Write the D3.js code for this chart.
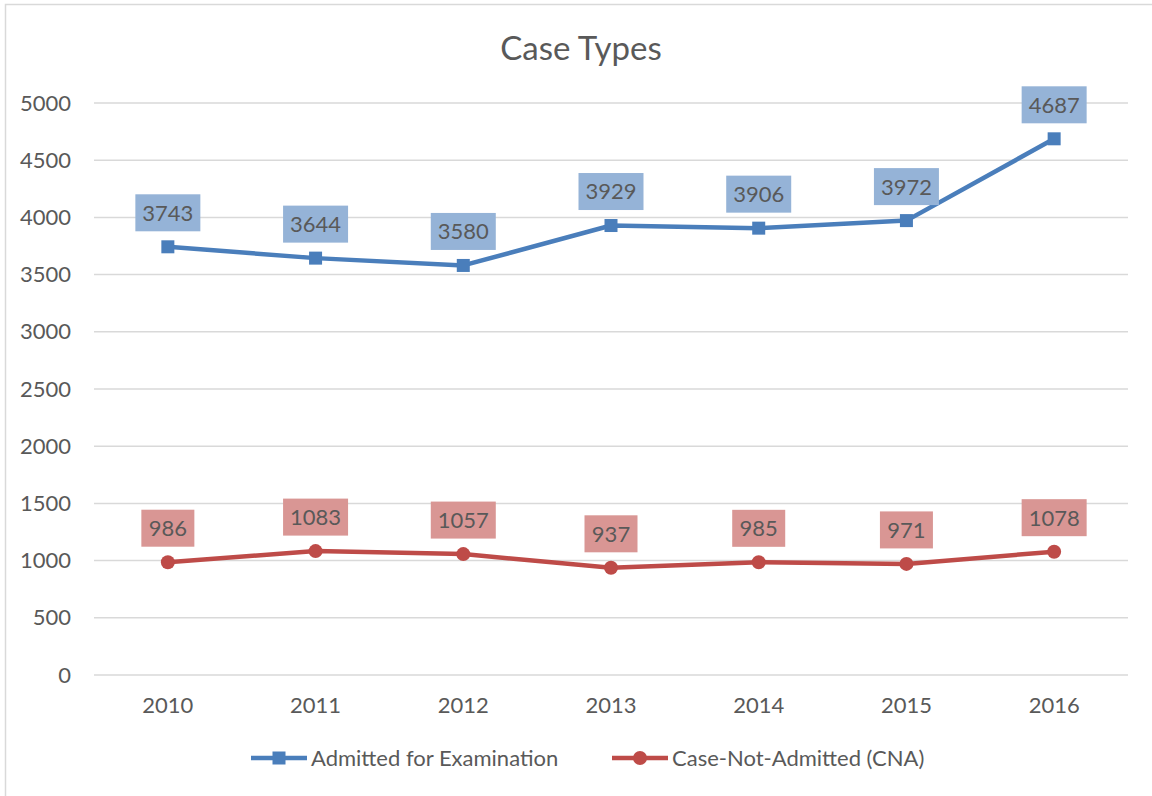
<!DOCTYPE html>
<html>
<head>
<meta charset="utf-8">
<script src="https://cdn.jsdelivr.net/npm/d3@7/dist/d3.min.js"></script>
<style>
  body { margin: 0; background: #fff; }
  text { font-family: Lato, "Open Sans", sans-serif; fill: #595959; }
</style>
</head>
<body>
<div class="chart"></div>
<script>
// Data
var years = ["2010", "2011", "2012", "2013", "2014", "2015", "2016"];
var admitted = [3743, 3644, 3580, 3929, 3906, 3972, 4687];
var notAdmitted = [986, 1083, 1057, 937, 985, 971, 1078];
var yTicks = [0, 500, 1000, 1500, 2000, 2500, 3000, 3500, 4000, 4500, 5000];

var svgWidth = 1152;
var svgHeight = 796;
var margin = {top: 103, right: 24, bottom: 121, left: 94};
var width = svgWidth - margin.left - margin.right;
var height = svgHeight - margin.top - margin.bottom;

var svg = d3.select(".chart")
    .append("svg")
    .attr("width", svgWidth)
    .attr("height", svgHeight);

// chart border
svg.append("rect")
    .attr("x", 5.5).attr("y", 4.5)
    .attr("width", 1160).attr("height", 800)
    .attr("fill", "none")
    .attr("stroke", "#d9d9d9")
    .attr("stroke-width", 1.5);

svg.append("text")
    .attr("x", svgWidth / 2 + 5)
    .attr("y", 60)
    .attr("text-anchor", "middle")
    .style("font-size", "33px")
    .text("Case Types");

var chartGroup = svg.append("g")
    .attr("transform", "translate(" + margin.left + "," + margin.top + ")");

var x = d3.scaleBand().domain(years).range([0, width]);
var y = d3.scaleLinear().domain([0, 5000]).range([height, 0]);

// gridlines
chartGroup.selectAll(".grid")
    .data(yTicks)
    .enter()
    .append("line")
    .attr("x1", 0).attr("x2", width)
    .attr("y1", d => y(d)).attr("y2", d => y(d))
    .attr("stroke", "#d9d9d9")
    .attr("stroke-width", 1.5);

// y axis labels
var leftAxis = d3.axisLeft(y).tickValues(yTicks).tickFormat(d3.format("d")).tickSize(0).tickPadding(23);
var gy = chartGroup.append("g").call(leftAxis);
gy.select(".domain").remove();
gy.selectAll("text").style("font-size", "22px").attr("fill", "#595959");

// x axis labels
var bottomAxis = d3.axisBottom(x).tickSize(0).tickPadding(22);
var gx = chartGroup.append("g")
    .attr("transform", `translate(0, ${height})`)
    .call(bottomAxis);
gx.select(".domain").remove();
gx.selectAll("text").style("font-size", "22px").attr("fill", "#595959");

var cx = d => x(d) + x.bandwidth() / 2;

function drawSeries(values, lineColor, boxColor, shape) {
    var pts = years.map((yr, i) => ({yr: yr, v: values[i]}));
    var line = d3.line().x(d => cx(d.yr)).y(d => y(d.v));
    chartGroup.append("path")
        .datum(pts)
        .attr("d", line)
        .attr("fill", "none")
        .attr("stroke", lineColor)
        .attr("stroke-width", 4.5)
        .attr("stroke-linejoin", "round");

    if (shape === "square") {
        chartGroup.selectAll(null).data(pts).enter().append("rect")
            .attr("x", d => cx(d.yr) - 6.5)
            .attr("y", d => y(d.v) - 6.5)
            .attr("width", 13).attr("height", 13)
            .attr("fill", lineColor);
    } else {
        chartGroup.selectAll(null).data(pts).enter().append("circle")
            .attr("cx", d => cx(d.yr))
            .attr("cy", d => y(d.v))
            .attr("r", 7)
            .attr("fill", lineColor);
    }

    // data labels
    var lbl = chartGroup.selectAll(null).data(pts).enter().append("g")
        .attr("transform", d => `translate(${cx(d.yr)}, ${y(d.v) - 34})`);
    lbl.append("rect")
        .attr("x", d => String(d.v).length > 3 ? -32.5 : -26.5)
        .attr("y", -18.5)
        .attr("width", d => String(d.v).length > 3 ? 65 : 53)
        .attr("height", 37)
        .attr("fill", boxColor);
    lbl.append("text")
        .attr("text-anchor", "middle")
        .attr("dy", "0.36em")
        .style("font-size", "22px")
        .attr("fill", "#404040")
        .text(d => d.v);
}

drawSeries(admitted, "#4a7ebb", "#95b3d7", "square");
drawSeries(notAdmitted, "#be4b48", "#d99694", "circle");

// legend
var legend = [
    {name: "Admitted for Examination", color: "#4a7ebb", shape: "square", x: 251},
    {name: "Case-Not-Admitted (CNA)", color: "#be4b48", shape: "circle", x: 612}
];
var lg = svg.selectAll(".legend").data(legend).enter().append("g")
    .attr("transform", d => `translate(${d.x}, 758)`);
lg.append("line")
    .attr("x1", 0).attr("x2", 56)
    .attr("stroke", d => d.color)
    .attr("stroke-width", 4.5);
lg.each(function(d) {
    var g = d3.select(this);
    if (d.shape === "square") {
        g.append("rect").attr("x", 21.5).attr("y", -6.5).attr("width", 13).attr("height", 13).attr("fill", d.color);
    } else {
        g.append("circle").attr("cx", 28).attr("r", 7).attr("fill", d.color);
    }
});
lg.append("text")
    .attr("x", 60)
    .attr("dy", "0.36em")
    .style("font-size", "22px")
    .text(d => d.name);
</script>
</body>
</html>
